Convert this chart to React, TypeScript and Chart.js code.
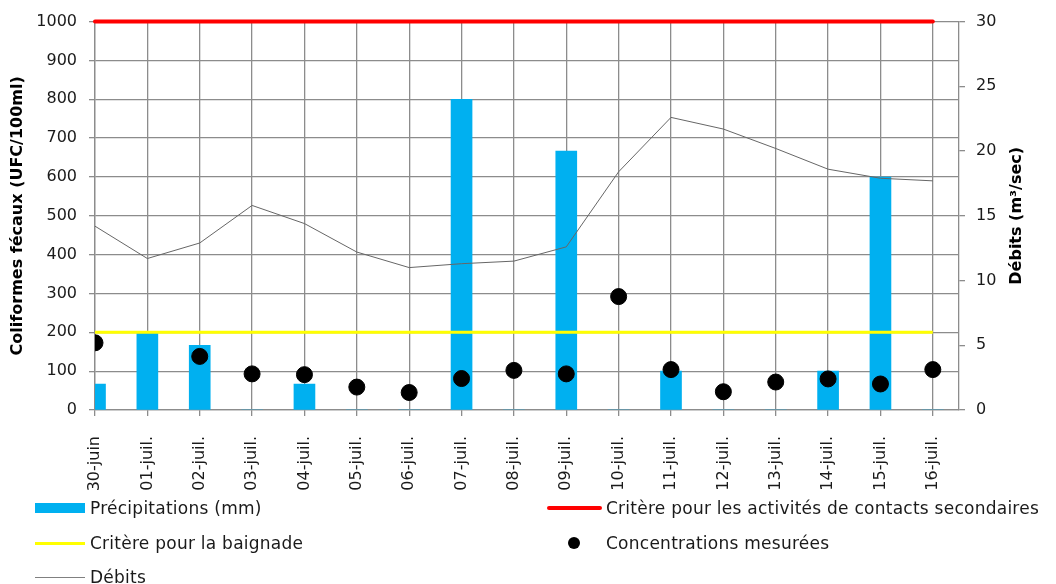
import React, { useEffect, useRef } from "react";
import { Chart, registerables } from "chart.js";

Chart.register(...registerables);

const categories = [
  "30-juin", "01-juil.", "02-juil.", "03-juil.", "04-juil.", "05-juil.", "06-juil.", "07-juil.", "08-juil.",
  "09-juil.", "10-juil.", "11-juil.", "12-juil.", "13-juil.", "14-juil.", "15-juil.", "16-juil.",
];
const precipitations = [2, 6, 5, 0, 2, 0, 0, 24, 0, 20, 0, 3, 0, 0, 3, 18, 0];
const debits = [14.2, 11.7, 12.9, 15.8, 14.4, 12.2, 11.0, 11.3, 11.5, 12.6, 18.4, 22.6, 21.7, 20.2, 18.6, 17.9, 17.7];
const concentrations: (number | null)[] = [173, null, 138, 93, 91, 59, 45, 81, 102, 93, 292, 104, 47, 72, 80, 67, 104];
const critereSecondaire = 1000;
const critereBaignade = 200;
const leftAxis = { min: 0, max: 1000, step: 100 };
const rightAxis = { min: 0, max: 30, step: 5 };

const FONT = '"DejaVu Sans", sans-serif';
const GRID = "#8c8c8c";
const TEXT = "#1a1a1a";

const rightTitlePlugin = {
  id: "rightTitle",
  afterDraw(chart: any) {
    const ctx = chart.ctx;
    const area = chart.chartArea;
    const s = chart.scales.y2;
    ctx.save();
    ctx.translate(s.right - 39, (area.top + area.bottom) / 2);
    ctx.rotate(-Math.PI / 2);
    ctx.font = `bold 16px ${FONT}`;
    ctx.fillStyle = "#000";
    ctx.textAlign = "center";
    ctx.textBaseline = "middle";
    ctx.fillText("Débits (m³/sec)", 0, 0);
    ctx.restore();
  },
};

export default function App() {
  const ref = useRef<HTMLCanvasElement | null>(null);

  useEffect(() => {
    if (!ref.current) return;
    const pts = (arr: (number | null)[]) => arr.map((v, i) => ({ x: i, y: v }));
    const chart = new Chart(ref.current, {
      type: "bar",
      data: {
        datasets: [
          {
            type: "scatter",
            label: "Concentrations mesurées",
            data: pts(concentrations) as any,
            yAxisID: "y",
            backgroundColor: "#000",
            borderColor: "#000",
            pointRadius: 8,
            pointHoverRadius: 8,
            showLine: false,
            order: 0,
          } as any,
          {
            type: "line",
            label: "Critère pour les activités de contacts secondaires",
            data: pts(categories.map(() => critereSecondaire)),
            yAxisID: "y",
            borderColor: "#ff0000",
            borderWidth: 4,
            borderCapStyle: "round",
            pointRadius: 0,
            clip: false,
            order: 1,
          } as any,
          {
            type: "line",
            label: "Critère pour la baignade",
            data: pts(categories.map(() => critereBaignade)),
            yAxisID: "y",
            borderColor: "#ffff00",
            borderWidth: 3,
            pointRadius: 0,
            order: 2,
          } as any,
          {
            type: "line",
            label: "Débits",
            data: pts(debits),
            yAxisID: "y2",
            borderColor: "#666666",
            borderWidth: 1,
            pointRadius: 0,
            tension: 0,
            order: 3,
          } as any,
          {
            type: "bar",
            label: "Précipitations (mm)",
            data: pts(precipitations),
            yAxisID: "y2",
            backgroundColor: "#00b0f0",
            borderWidth: 0,
            barThickness: 21,
            clip: 0,
            order: 10,
          } as any,
        ],
      },
      options: {
        animation: false,
        responsive: false,
        maintainAspectRatio: false,
        layout: { padding: { top: 20, bottom: 94, left: 0, right: 0 } },
        plugins: { legend: { display: false }, tooltip: { enabled: false } },
        scales: {
          x: {
            type: "linear",
            offset: false,
            min: 0,
            max: categories.length - 0.5,
            afterBuildTicks: (scale: any) => {
              scale.ticks = scale.ticks.filter((t: any) => Number.isInteger(t.value));
            },
            afterFit: (scale: any) => {
              scale.height = 80;
            },
            ticks: {
              stepSize: 1,
              includeBounds: false,
              autoSkip: false,
              minRotation: 90,
              maxRotation: 90,
              padding: 20,
              color: TEXT,
              font: { family: FONT, size: 16 },
              callback: (v: any) => categories[v] ?? "",
            },
            grid: { offset: false, drawTicks: true, color: GRID, lineWidth: 1.3, tickLength: 6 },
            border: { color: GRID, width: 1.3 },
          },
          y: {
            position: "left",
            min: leftAxis.min,
            max: leftAxis.max,
            afterFit: (scale: any) => {
              scale.width = 95;
            },
            ticks: {
              stepSize: leftAxis.step,
              padding: 12,
              color: TEXT,
              font: { family: FONT, size: 16 },
              callback: (v: any) => String(v),
            },
            grid: { color: GRID, lineWidth: 1.3, tickLength: 6 },
            border: { color: GRID, width: 1.3 },
            title: {
              display: true,
              text: "Coliformes fécaux (UFC/100ml)",
              color: "#000",
              font: { family: FONT, size: 16, weight: "bold" },
              padding: { top: 8, bottom: 0 },
            },
          },
          y2: {
            position: "right",
            min: rightAxis.min,
            max: rightAxis.max,
            afterFit: (scale: any) => {
              scale.width = 97;
            },
            ticks: {
              stepSize: rightAxis.step,
              padding: 11,
              color: TEXT,
              font: { family: FONT, size: 16 },
              callback: (v: any) => String(v),
            },
            grid: { drawOnChartArea: false, color: GRID, lineWidth: 1.3, tickLength: 6 },
            border: { color: GRID, width: 1.3 },
          },
        },
      } as any,
      plugins: [rightTitlePlugin],
    });
    return () => chart.destroy();
  }, []);

  const textStyle: React.CSSProperties = {
    position: "absolute",
    fontFamily: FONT,
    fontSize: 17,
    letterSpacing: "0.25px",
    color: TEXT,
    lineHeight: "20px",
    height: 20,
    whiteSpace: "nowrap",
  };

  return (
    <div style={{ position: "absolute", left: 0, top: 0, width: 1056, height: 584, background: "#fff" }}>
      <canvas ref={ref} width={1056} height={584} style={{ width: 1056, height: 584, display: "block" }} />
      {/* Legend */}
      <div style={{ position: "absolute", left: 35, top: 503, width: 50, height: 10, background: "#00b0f0" }} />
      <div style={{ ...textStyle, left: 90, top: 498 }}>Précipitations (mm)</div>

      <div style={{ position: "absolute", left: 547, top: 506, width: 55, height: 4, background: "#ff0000", borderRadius: 2 }} />
      <div style={{ ...textStyle, left: 606, top: 498 }}>Critère pour les activités de contacts secondaires</div>

      <div style={{ position: "absolute", left: 35, top: 541.5, width: 50, height: 3, background: "#ffff00" }} />
      <div style={{ ...textStyle, left: 90, top: 533 }}>Critère pour la baignade</div>

      <div style={{ position: "absolute", left: 568, top: 537, width: 12, height: 12, background: "#000", borderRadius: 6 }} />
      <div style={{ ...textStyle, left: 606, top: 533 }}>Concentrations mesurées</div>

      <div style={{ position: "absolute", left: 35, top: 577, width: 50, height: 1, background: "#808080" }} />
      <div style={{ ...textStyle, left: 90, top: 567 }}>Débits</div>
    </div>
  );
}
